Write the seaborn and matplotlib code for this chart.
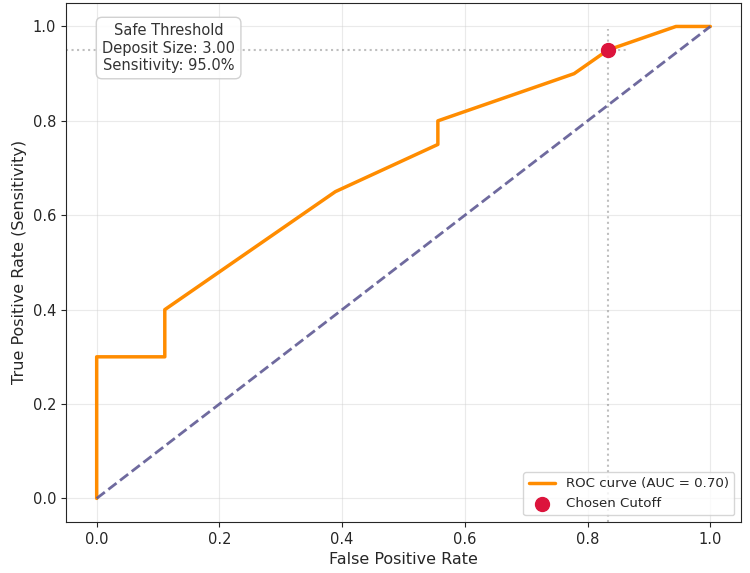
import numpy as np
import matplotlib.pyplot as plt
import seaborn as sns

fpr = [0.0, 0.0, 0.111, 0.111, 0.389, 0.556, 0.556, 0.778, 0.833, 0.944, 1.0]
tpr = [0.0, 0.30, 0.30, 0.40, 0.65, 0.75, 0.80, 0.90, 0.95, 1.0, 1.0]
auc_value = 0.70
cut_fpr = 0.833
cut_tpr = 0.95
cut_deposit = 3.00

sns.set_style("ticks")
plt.rcParams['font.family'] = ['DejaVu Sans']

fig, ax = plt.subplots(figsize=(7.5, 5.73), dpi=100)
fig.subplots_adjust(left=0.088, right=0.988, top=0.995, bottom=0.089)

sns.lineplot(x=fpr, y=tpr, sort=False, color='darkorange', lw=2.5,
             label=f'ROC curve (AUC = {auc_value:.2f})', ax=ax, estimator=None)
ax.plot([0, 1], [0, 1], color='#5f5a94', lw=2, linestyle='--', alpha=0.9)

ax.scatter([cut_fpr], [cut_tpr], color='crimson', s=100, zorder=5, label='Chosen Cutoff')
ax.axhline(cut_tpr, xmax=cut_fpr, color='grey', linestyle=':', alpha=0.5)
ax.axvline(cut_fpr, ymax=cut_tpr, color='grey', linestyle=':', alpha=0.5)

ax.text(0.152, 0.913, f'Safe Threshold\nDeposit Size: {cut_deposit:.2f}\nSensitivity: {cut_tpr*100:.1f}%',
        transform=ax.transAxes, ha='center', va='center', fontsize=10.5, color='#333333',
        bbox=dict(boxstyle='round,pad=0.4', facecolor='white', edgecolor='#cccccc', alpha=0.9))

ax.set_xlim(-0.05, 1.05)
ax.set_ylim(-0.05, 1.05)
ax.grid(True, alpha=0.4)
ax.tick_params(labelsize=10.5)
ax.set_xlabel('False Positive Rate', fontsize=11.5)
ax.set_ylabel('True Positive Rate (Sensitivity)', fontsize=11.5)
ax.legend(loc='lower right', fontsize=9.6)
for s in ax.spines.values():
    s.set_visible(True)

plt.savefig('out.png', dpi=100)
